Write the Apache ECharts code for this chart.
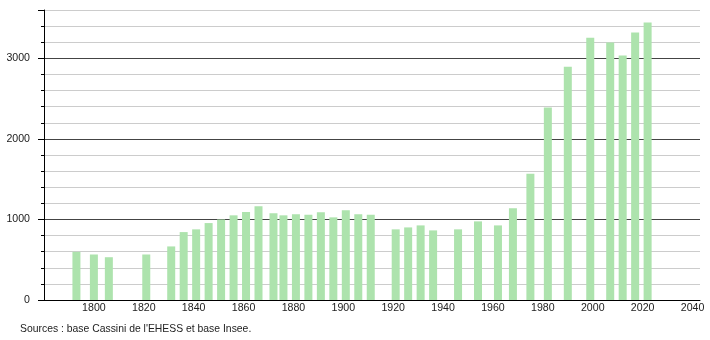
<!DOCTYPE html>
<html>
<head>
<meta charset="utf-8">
<script src="https://cdn.jsdelivr.net/npm/echarts@6/dist/echarts.min.js"></script>
<style>
html,body{margin:0;padding:0;background:#fff;}
#chart{width:710px;height:340px;}
</style>
</head>
<body>
<div id="chart"></div>
<script>
var years = [1793,1800,1806,1821,1831,1836,1841,1846,1851,1856,1861,1866,1872,1876,1881,1886,1891,1896,1901,1906,1911,1921,1926,1931,1936,1946,1954,1962,1968,1975,1982,1990,1999,2007,2012,2017,2022];
var population = [598,565,531,565,665,843,877,955,1000,1051,1092,1163,1076,1051,1063,1059,1088,1026,1113,1063,1059,877,901,926,864,877,976,926,1138,1566,2389,2897,3254,3196,3034,3320,3445];
var xTicks = [1780,1800,1820,1840,1860,1880,1900,1920,1940,1960,1980,2000,2020,2040];
var yLabels = [0,1000,2000,3000];
var sourceText = "Sources : base Cassini de l'EHESS et base Insee.";

var data = years.map(function(y,i){ return [y, population[i]]; });
var font = 'Liberation Sans, Arial, sans-serif';
var chart = echarts.init(document.getElementById('chart'), null, {renderer:'canvas'});
chart.setOption({
  animation:false,
  backgroundColor:'#fff',
  grid:{left:44, right:10, top:10, bottom:40, containLabel:false},
  graphic:[{type:'text', left:20, top:324, style:{text:sourceText, font:'10.4px '+font, fill:'#222'}}],
  xAxis:{
    type:'value', min:1780, max:2043, interval:20,
    axisLine:{show:true, lineStyle:{color:'#000', width:1}},
    axisTick:{show:false},
    splitLine:{show:false},
    axisLabel:{margin:3, fontFamily:font, fontSize:10.6, color:'#222',
      formatter:function(v){ return (v===1780 || xTicks.indexOf(v)<0) ? '' : String(v); }}
  },
  yAxis:[{
    type:'value', min:0, max:3600, interval:200,
    axisLine:{show:true, lineStyle:{color:'#000', width:1}},
    axisTick:{show:true, length:3, lineStyle:{color:'#000'}},
    splitLine:{show:true, lineStyle:{color:['#444','#ccc','#ccc','#ccc','#ccc'], width:1}},
    axisLabel:{margin:14, fontFamily:font, fontSize:10.6, color:'#222',
      formatter:function(v){ return yLabels.indexOf(v)>=0 ? String(v) : ''; }}
  },{
    type:'value', min:0, max:3600, interval:1000, position:'left',
    axisLine:{show:false},
    axisTick:{show:true, length:6, lineStyle:{color:'#000'}},
    splitLine:{show:false},
    axisLabel:{show:false}
  }],
  series:[{
    type:'bar', data:data, barWidth:8, yAxisIndex:0,
    itemStyle:{color:'#ade3ad'}
  }]
});
</script>
</body>
</html>
